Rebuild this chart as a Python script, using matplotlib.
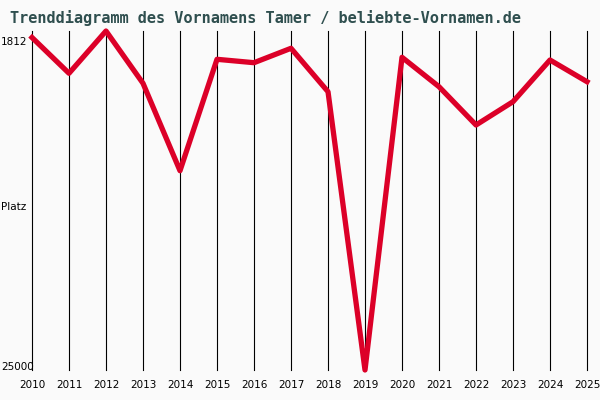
import matplotlib
matplotlib.use('Agg')
import matplotlib.pyplot as plt

# Ranks (lower rank = higher on the chart)
years = [2010, 2011, 2012, 2013, 2014, 2015, 2016, 2017,
         2018, 2019, 2020, 2021, 2022, 2023, 2024, 2025]
ranks = [2257, 4705, 1812, 5389, 11368, 3748, 3980, 2995,
         5964, 25000, 3611, 5622, 8242, 6648, 3796, 5280]
rank_best = 1812
rank_worst = 25000
title = 'Trenddiagramm des Vornamens Tamer / beliebte-Vornamen.de'

bg = '#fafafa'
fig = plt.figure(figsize=(6, 4), dpi=100, facecolor=bg)
ax = fig.add_axes([32/600, 1 - 370/400, 555/600, 339/400])
ax.set_facecolor(bg)

for y in years:
    ax.axvline(y, color='black', linewidth=0.8, zorder=1, clip_on=False)

ax.plot(years, ranks, color='#dc0028', linewidth=3.8, zorder=2, clip_on=False)

ax.set_xlim(years[0], years[-1])
ax.set_ylim(rank_worst, rank_best)
for s in ax.spines.values():
    s.set_visible(False)
ax.set_yticks([])
ax.set_xticks(years)
ax.set_xticklabels([str(y) for y in years], fontsize=7.5)
ax.tick_params(axis='x', length=0, pad=7)

fig.text(10/600, 1 - 18/400, title, family='DejaVu Sans Mono', fontsize=11,
         fontweight='bold', color='#2f4f4f', va='center', ha='left')
fig.text(1/600, 1 - 42/400, str(rank_best), fontsize=7.5, va='center', ha='left')
fig.text(1/600, 1 - 207/400, 'Platz', fontsize=7.5, va='center', ha='left')
fig.text(1/600, 1 - 367/400, str(rank_worst), fontsize=7.5, va='center', ha='left')

fig.savefig('out.png', dpi=100, facecolor=bg)
